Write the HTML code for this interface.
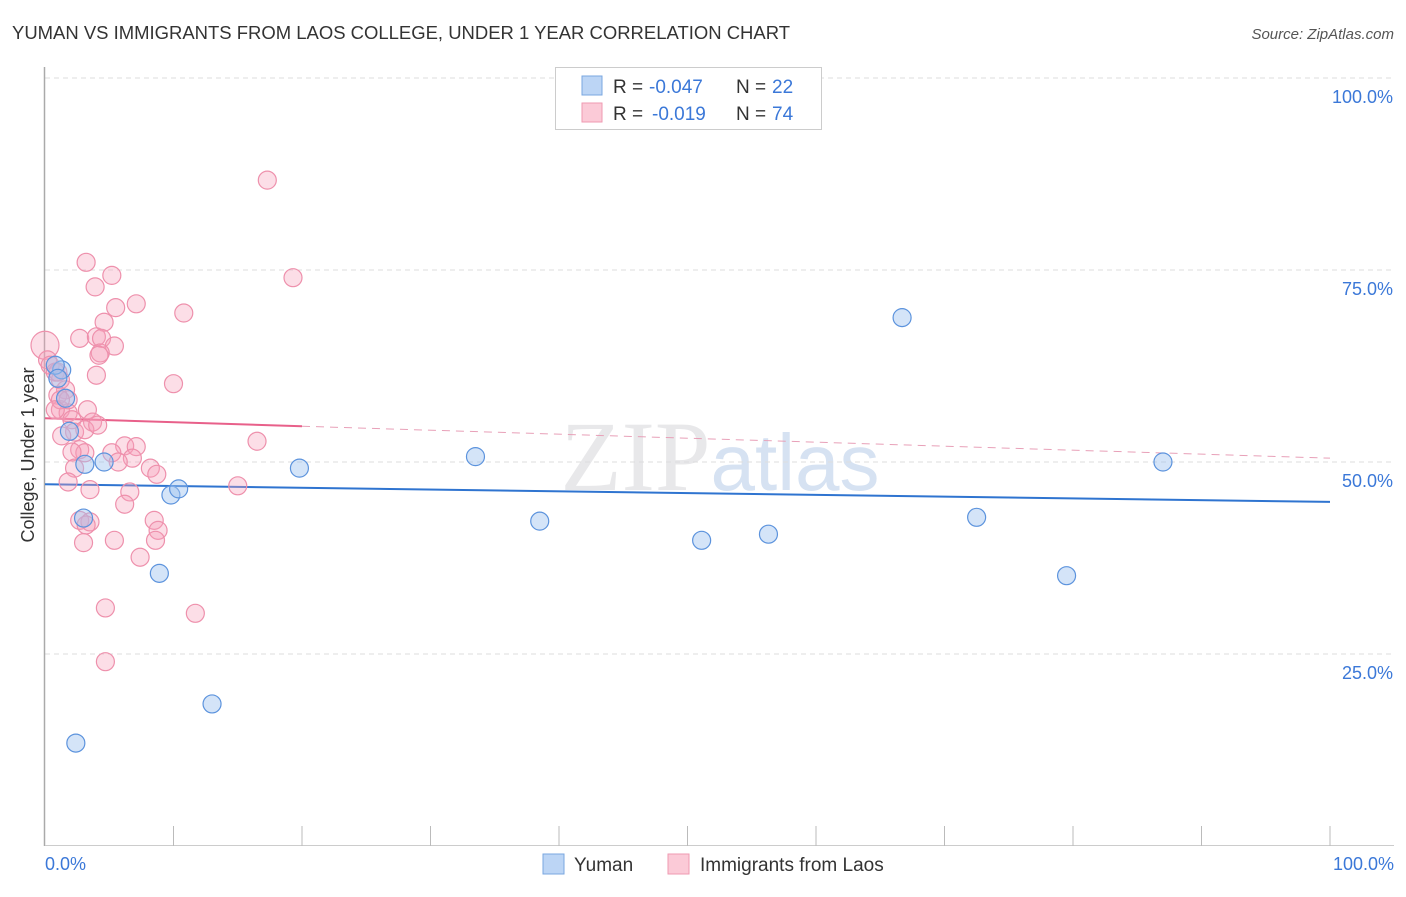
<!DOCTYPE html>
<html><head><meta charset="utf-8"><style>
body{margin:0;background:#fff;font-family:"Liberation Sans",sans-serif}
</style></head><body>
<svg id="chart" width="1406" height="892" xmlns="http://www.w3.org/2000/svg" font-family="Liberation Sans, sans-serif">
<text x="12" y="39" font-size="18" fill="#333" textLength="778" lengthAdjust="spacingAndGlyphs">YUMAN VS IMMIGRANTS FROM LAOS COLLEGE, UNDER 1 YEAR CORRELATION CHART</text>
<text x="1394" y="39" font-size="15" fill="#555" font-style="italic" text-anchor="end">Source: ZipAtlas.com</text>
<text x="0" y="0" transform="translate(34,455) rotate(-90)" font-size="18" fill="#333" text-anchor="middle">College, Under 1 year</text>
<text x="720" y="490" font-size="100" fill="#e8e8ea" text-anchor="middle" font-family="Liberation Serif, serif">ZIP<tspan fill="#d6e2f2" font-family="Liberation Sans, sans-serif" font-size="80">atlas</tspan></text>
<g id="grid"></g><g id="axes"></g><g id="lines"></g><g id="pts"></g>
<g>
<rect x="555.5" y="67.5" width="266" height="62" fill="#fff" stroke="#ccc"/>
<rect x="582" y="76" width="20" height="19" fill="#bcd5f5" stroke="#7aa7e0"/>
<rect x="582" y="103" width="20" height="19" fill="#fbcad7" stroke="#ef9ab2"/>
<text x="613" y="93" font-size="19" fill="#333">R =</text>
<text x="649" y="93" font-size="19" fill="#3b78d8">-0.047</text>
<text x="736" y="93" font-size="19" fill="#333">N =</text>
<text x="772" y="93" font-size="19" fill="#3b78d8">22</text>
<text x="613" y="120" font-size="19" fill="#333">R =</text>
<text x="652" y="120" font-size="19" fill="#3b78d8">-0.019</text>
<text x="736" y="120" font-size="19" fill="#333">N =</text>
<text x="772" y="120" font-size="19" fill="#3b78d8">74</text>
</g>
<g>
<rect x="543" y="854" width="21" height="20" fill="#bcd5f5" stroke="#7aa7e0"/>
<text x="574" y="871" font-size="19" fill="#333">Yuman</text>
<rect x="668" y="854" width="21" height="20" fill="#fbcad7" stroke="#ef9ab2"/>
<text x="700" y="871" font-size="19" fill="#333">Immigrants from Laos</text>
</g>
</svg>
<script>
const yTicks=[25,50,75,100];
const yTickLabels=["25.0%","50.0%","75.0%","100.0%"];
const xEndLabels=["0.0%","100.0%"];
const yumanX=[1.3,1.6,1.9,4.6,3.1,3.0,9.8,10.4,8.9,13.0,2.4,19.8,33.5,38.5,51.1,56.3,66.7,72.5,79.5,87.0,0.8,1.0];
const yumanY=[62.0,58.3,54.0,50.0,49.7,42.7,45.7,46.5,35.5,18.5,13.4,49.2,50.7,42.3,39.8,40.6,68.8,42.8,35.2,50.0,62.6,60.9];
const laosX=[17.3,19.3,3.2,5.2,3.9,7.1,5.5,10.8,4.6,2.7,4.0,4.4,5.4,4.3,4.2,4.0,10.0,0,0.2,0.4,0.8,1.2,1.6,1.0,1.2,1.8,3.3,3.7,2.1,2.3,1.3,2.7,3.1,2.1,6.2,7.1,5.2,6.8,5.7,2.3,8.2,8.7,1.8,3.5,6.6,15.0,16.5,6.2,2.7,3.5,3.2,8.5,8.8,8.6,3.0,5.4,7.4,4.7,11.7,4.7,1.8,3.1,4.1,1.2,0.8,1.0];
const laosY=[86.7,74.0,76.0,74.3,72.8,70.6,70.1,69.4,68.2,66.1,66.3,66.1,65.1,64.2,63.9,61.3,60.2,65.2,63.3,62.6,61.7,60.7,59.4,58.7,56.8,56.4,56.8,55.2,55.5,53.9,53.4,51.6,51.2,51.3,52.1,52.0,51.2,50.5,50.0,49.2,49.2,48.4,47.4,46.4,46.1,46.9,52.7,44.5,42.4,42.2,41.8,42.4,41.1,39.8,39.5,39.8,37.6,31.0,30.3,24.0,58.1,54.2,54.8,58.1,56.8,61.7];
const yumanTrend=[47.1,44.8];
const laosTrend=[55.7,50.5];
const NS="http://www.w3.org/2000/svg";
const X=v=>45+v*12.85, Y=v=>846-v*7.68;
function mk(t,a,p){const e=document.createElementNS(NS,t);for(const k in a)e.setAttribute(k,a[k]);p.appendChild(e);return e;}
const grid=document.getElementById('grid'),axes=document.getElementById('axes'),lines=document.getElementById('lines'),pts=document.getElementById('pts');
yTicks.forEach((t,i)=>{
 const l=mk('line',{x1:45,x2:1394,y1:Y(t),y2:Y(t),stroke:'#ddd','stroke-dasharray':'5,4'},grid);
 
 
 const tx=mk('text',{x:1393,y:Y(t)+25,'font-size':18,fill:'#3b78d8','text-anchor':'end'},axes);
 tx.textContent=yTickLabels[i];
 
 
});
const ya=mk('line',{x1:44.5,x2:44.5,y1:67,y2:846,stroke:'#aaa','stroke-width':1.5},axes);


const xa=mk('line',{x1:45,x2:1394,y1:845.5,y2:845.5,stroke:'#ccc'},axes);


for(let i=1;i<=10;i++){const t=mk('line',{x1:X(i*10),x2:X(i*10),y1:826,y2:846,stroke:'#bbb'},axes);
 
 }
[[0,'start',45],[1,'end',1394]].forEach(([i,a,x])=>{const t=mk('text',{x:x,y:870,'font-size':18,fill:'#3b78d8','text-anchor':a},axes);t.textContent=xEndLabels[i];
 
 });
const ty=v=>laosTrend[0]+(laosTrend[1]-laosTrend[0])*v/100;
const by=v=>yumanTrend[0]+(yumanTrend[1]-yumanTrend[0])*v/100;
let l1=mk('line',{x1:X(0),y1:Y(ty(0)),x2:X(20),y2:Y(ty(20)),stroke:'#e8608a','stroke-width':2},lines);


let l2=mk('line',{x1:X(20),y1:Y(ty(20)),x2:X(100),y2:Y(ty(100)),stroke:'#e8a0b8','stroke-width':1,'stroke-dasharray':'8,6'},lines);


let l3=mk('line',{x1:X(0),y1:Y(by(0)),x2:X(100),y2:Y(by(100)),stroke:'#2f74d0','stroke-width':2},lines);


laosX.forEach((x,i)=>{const c=mk('circle',{cx:X(x),cy:Y(laosY[i]),r:i==17?14:9,fill:'rgba(246,160,185,0.35)',stroke:'#ee90ac','stroke-width':1.2},pts);
 
 });
yumanX.forEach((x,i)=>{const c=mk('circle',{cx:X(x),cy:Y(yumanY[i]),r:9,fill:'rgba(160,195,240,0.45)',stroke:'#5c93dd','stroke-width':1.2},pts);
 
 });
</script>
</body></html>
